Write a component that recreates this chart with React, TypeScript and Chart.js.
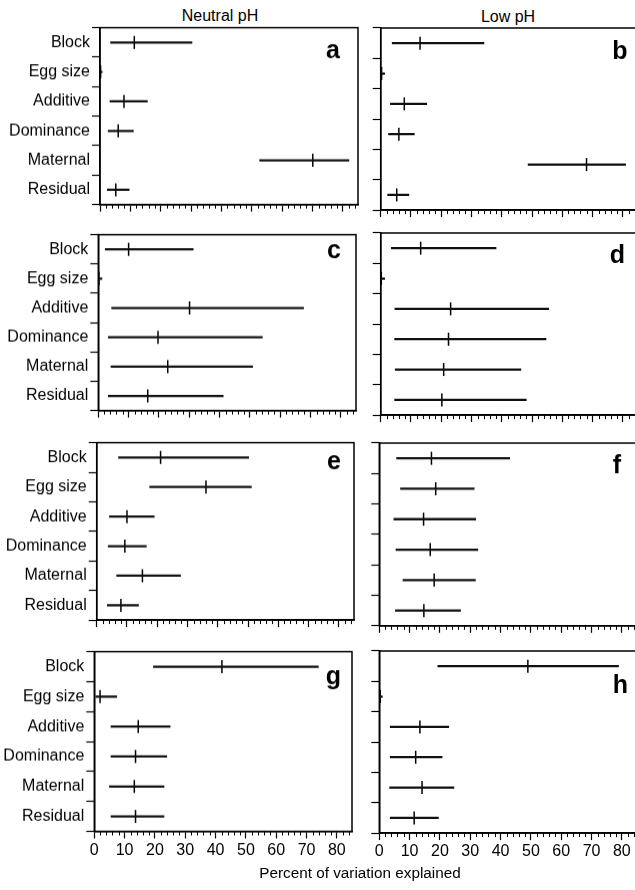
import React, { useEffect, useRef } from 'react';
import { Chart, registerables } from 'chart.js';

Chart.register(...registerables);

const FONT = '"Liberation Sans", Arial, Helvetica, sans-serif';

const CATEGORIES = ['Block', 'Egg size', 'Additive', 'Dominance', 'Maternal', 'Residual'];
const X_MAX = 85;
const X_MAJOR_STEP = 10;
const X_MINOR_STEP = 2;
const COLUMN_TITLES = ['Neutral pH', 'Low pH'];
const X_TITLE = 'Percent of variation explained';

// Panel a (Neutral pH)
const A_LOW = [3.5, 0.0, 3.3, 2.7, 52.6, 2.4];
const A_EST = [11.3, 0.2, 7.9, 6.0, 70.1, 5.2];
const A_HIGH = [30.3, 0.7, 15.6, 11.0, 82.0, 9.6];
// Panel b (Low pH)
const B_LOW = [3.8, 0.0, 3.2, 2.6, 48.7, 2.3];
const B_EST = [13.0, 0.3, 7.8, 6.0, 68.0, 5.3];
const B_HIGH = [34.1, 1.3, 15.2, 11.1, 80.9, 9.3];
// Panel c
const C_LOW = [2.3, 0.0, 4.4, 3.3, 4.2, 3.3];
const C_EST = [10.0, 0.2, 30.1, 19.7, 22.9, 16.3];
const C_HIGH = [31.3, 1.2, 67.7, 54.1, 50.9, 41.2];
// Panel d
const D_LOW = [3.5, 0.0, 4.7, 4.6, 4.8, 4.6];
const D_EST = [13.2, 0.2, 23.1, 22.4, 20.8, 20.2];
const D_HIGH = [38.1, 1.3, 55.5, 54.6, 46.3, 48.1];
// Panel e
const E_LOW = [7.2, 17.5, 4.2, 3.8, 6.6, 3.5];
const E_EST = [21.1, 36.1, 10.0, 9.3, 15.1, 8.0];
const E_HIGH = [50.2, 51.1, 19.0, 16.4, 27.7, 13.8];
// Panel f
const F_LOW = [5.7, 7.0, 4.8, 5.5, 7.8, 5.3];
const F_EST = [17.2, 18.6, 14.6, 16.8, 18.1, 14.7];
const F_HIGH = [43.0, 31.3, 31.8, 32.5, 31.7, 26.8];
// Panel g
const G_LOW = [19.5, 0.5, 5.5, 5.5, 5.0, 5.5];
const G_EST = [42.1, 1.9, 14.5, 13.6, 13.2, 13.6];
const G_HIGH = [73.9, 7.4, 25.0, 23.9, 23.0, 23.0];
// Panel h
const H_LOW = [19.3, 0.0, 3.6, 3.6, 3.4, 3.6];
const H_EST = [49.0, 0.3, 13.4, 12.0, 14.1, 11.5];
const H_HIGH = [78.9, 1.0, 22.9, 20.7, 24.6, 19.5];

type Panel = {
  letter: string;
  low: number[];
  est: number[];
  high: number[];
  canvasLeft: number;
  originX: number;
  top: number;
  bottom: number;
  yLabels: boolean;
  xLabels: boolean;
  letterDx: number;
  letterDy: number;
};

const PANEL_WIDTH = 257.5;

const PANELS: Panel[] = [
  { letter: 'a', low: A_LOW, est: A_EST, high: A_HIGH, canvasLeft: 0, originX: 100, top: 28, bottom: 212, yLabels: true, xLabels: false, letterDx: -18, letterDy: 30 },
  { letter: 'b', low: B_LOW, est: B_EST, high: B_HIGH, canvasLeft: 360, originX: 380.7, top: 28, bottom: 212, yLabels: false, xLabels: false, letterDx: -10.5, letterDy: 31 },
  { letter: 'c', low: C_LOW, est: C_EST, high: C_HIGH, canvasLeft: 0, originX: 98.3, top: 235, bottom: 418, yLabels: true, xLabels: false, letterDx: -15, letterDy: 23 },
  { letter: 'd', low: D_LOW, est: D_EST, high: D_HIGH, canvasLeft: 360, originX: 380.7, top: 233, bottom: 417, yLabels: false, xLabels: false, letterDx: -13, letterDy: 30 },
  { letter: 'e', low: E_LOW, est: E_EST, high: E_HIGH, canvasLeft: 0, originX: 96.7, top: 443, bottom: 628, yLabels: true, xLabels: false, letterDx: -13, letterDy: 26 },
  { letter: 'f', low: F_LOW, est: F_EST, high: F_HIGH, canvasLeft: 360, originX: 379.3, top: 443, bottom: 626, yLabels: false, xLabels: false, letterDx: -16, letterDy: 30 },
  { letter: 'g', low: G_LOW, est: G_EST, high: G_HIGH, canvasLeft: 0, originX: 94.3, top: 652, bottom: 836, yLabels: true, xLabels: true, letterDx: -11, letterDy: 32.5 },
  { letter: 'h', low: H_LOW, est: H_EST, high: H_HIGH, canvasLeft: 360, originX: 379.3, top: 651, bottom: 834, yLabels: false, xLabels: true, letterDx: -9, letterDy: 42 },
];

const framePlugin = {
  id: 'frame',
  afterDraw(chart: any, _args: any, opts: any) {
    const { ctx, chartArea } = chart;
    const { left, right, top, bottom } = chartArea;
    const x = chart.scales.x;
    ctx.save();
    ctx.strokeStyle = '#000';
    ctx.lineWidth = 1.5;
    ctx.strokeRect(left, top, right - left, bottom - top);
    ctx.lineWidth = 1;
    for (let v = X_MINOR_STEP; v < X_MAX; v += X_MINOR_STEP) {
      if (v % X_MAJOR_STEP === 0) continue;
      const px = Math.round(x.getPixelForValue(v)) + 0.5;
      ctx.beginPath();
      ctx.moveTo(px, bottom);
      ctx.lineTo(px, bottom + 4);
      ctx.stroke();
    }
    ctx.font = `bold 25px ${FONT}`;
    ctx.textAlign = 'right';
    ctx.textBaseline = 'alphabetic';
    ctx.fillStyle = '#000';
    ctx.fillText(opts.letter, right + opts.dx, top + opts.dy);
    ctx.restore();
  },
};

function PanelChart({ p }: { p: Panel }) {
  const ref = useRef<HTMLCanvasElement>(null);
  const padTop = 4;
  const xAxisH = p.xLabels ? 32 : 9;
  const yAxisW = p.originX - p.canvasLeft;
  const cw = Math.ceil(yAxisW + PANEL_WIDTH + 4);
  const ch = Math.round(p.bottom - p.top + padTop + xAxisH);

  useEffect(() => {
    const canvas = ref.current as HTMLCanvasElement;
    const chart = new Chart(canvas, {
      type: 'bar',
      data: {
        labels: CATEGORIES,
        datasets: [
          {
            type: 'bar',
            data: CATEGORIES.map((_, i) => [p.low[i], p.high[i]]) as any,
            backgroundColor: '#111',
            borderWidth: 0,
            barThickness: 1.6,
            grouped: false,
          } as any,
          {
            type: 'scatter',
            data: CATEGORIES.map((c, i) => ({ x: p.est[i], y: c })) as any,
            pointStyle: 'line',
            rotation: 90,
            radius: 6.5,
            borderColor: '#000',
            backgroundColor: '#000',
            borderWidth: 1.5,
            clip: false,
          } as any,
        ],
      },
      options: {
        indexAxis: 'y',
        animation: false,
        responsive: false,
        devicePixelRatio: 1,
        events: [],
        layout: { padding: { top: padTop, left: 0, right: 4, bottom: 0 } },
        plugins: {
          legend: { display: false },
          tooltip: { enabled: false },
          frame: { letter: p.letter, dx: p.letterDx, dy: p.letterDy },
        } as any,
        scales: {
          x: {
            type: 'linear',
            position: 'bottom',
            min: 0,
            max: X_MAX,
            afterFit: (s: any) => {
              s.height = xAxisH;
            },
            ticks: {
              display: p.xLabels,
              stepSize: X_MAJOR_STEP,
              includeBounds: false,
              color: '#000',
              font: { size: 16, family: FONT },
              padding: 2,
              maxRotation: 0,
              autoSkip: false,
            },
            grid: {
              drawOnChartArea: false,
              drawTicks: true,
              tickLength: 7,
              tickColor: '#000',
              tickWidth: 1.2,
            },
            border: { display: true, color: '#000', width: 1.5 },
          },
          y: {
            type: 'category',
            position: 'left',
            offset: true,
            afterFit: (s: any) => {
              s.width = yAxisW;
            },
            ticks: {
              display: p.yLabels,
              color: '#000',
              font: { size: 16, family: FONT },
              padding: 2,
              autoSkip: false,
            },
            grid: {
              offset: true,
              drawOnChartArea: false,
              drawTicks: true,
              tickLength: 8,
              tickColor: '#000',
              tickWidth: 1.2,
            },
            border: { display: true, color: '#000', width: 1.5 },
          },
        },
      } as any,
      plugins: [framePlugin as any],
    });

    // Fit the canvas so that the plot area lands exactly on the panel box.
    const a = chart.chartArea;
    const wantH = p.bottom - p.top;
    const newW = Math.round(cw + (PANEL_WIDTH - (a.right - a.left)));
    const newH = Math.round(ch + (wantH - (a.bottom - a.top)));
    canvas.style.top = `${p.top - a.top}px`;
    if (newW !== cw || newH !== ch) {
      chart.resize(newW, newH);
    }
    return () => chart.destroy();
  }, []);

  return (
    <canvas
      ref={ref}
      width={cw}
      height={ch}
      style={{
        position: 'absolute',
        left: p.canvasLeft,
        top: p.top - padTop,
        width: cw,
        height: ch,
      }}
    />
  );
}

export default function App() {
  return (
    <div
      style={{
        position: 'fixed',
        left: 0,
        top: 0,
        width: 635,
        height: 890,
        overflow: 'hidden',
        background: '#fff',
        fontFamily: FONT,
        color: '#000',
      }}
    >
      <div style={{ position: 'absolute', left: 120, width: 200, top: 7, textAlign: 'center', fontSize: 16, lineHeight: '18px' }}>
        {COLUMN_TITLES[0]}
      </div>
      <div style={{ position: 'absolute', left: 408, width: 200, top: 7.5, textAlign: 'center', fontSize: 16, lineHeight: '18px' }}>
        {COLUMN_TITLES[1]}
      </div>
      {PANELS.map((p) => (
        <PanelChart key={p.letter} p={p} />
      ))}
      <div style={{ position: 'absolute', left: 160, width: 400, top: 864, textAlign: 'center', fontSize: 15.3, lineHeight: '18px' }}>
        {X_TITLE}
      </div>
    </div>
  );
}
